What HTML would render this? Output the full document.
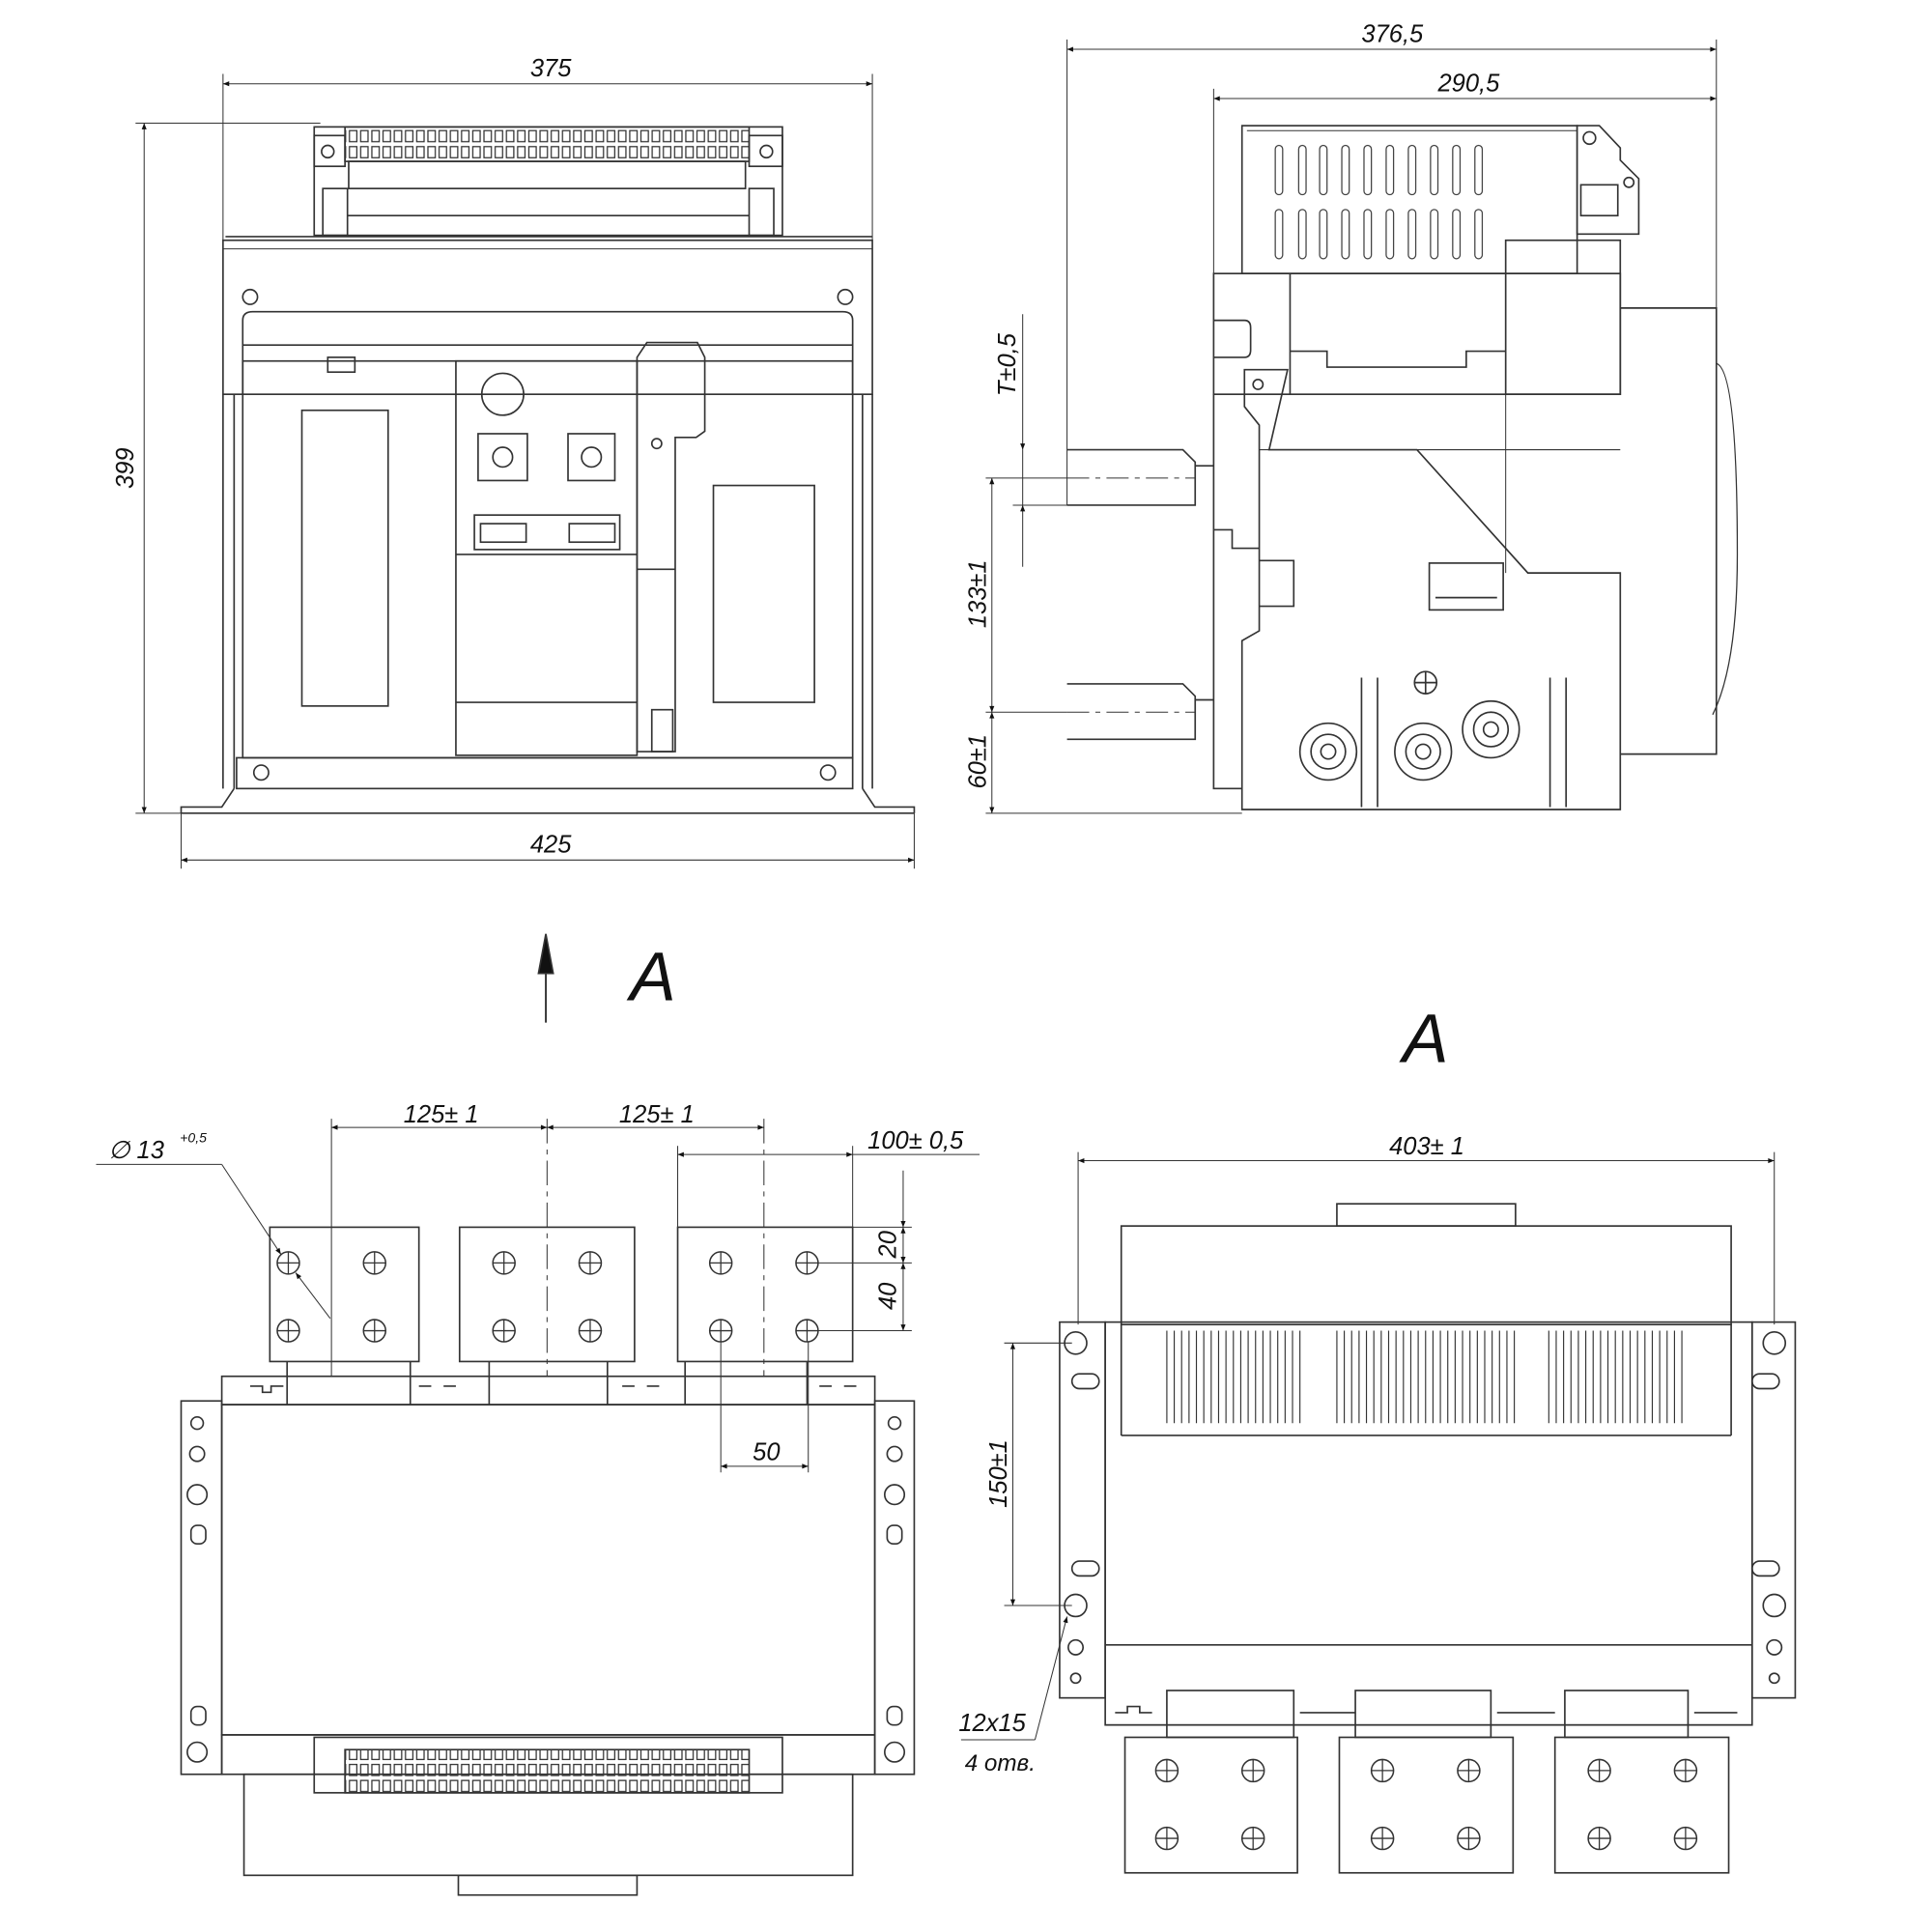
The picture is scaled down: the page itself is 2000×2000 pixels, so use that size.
<!DOCTYPE html>
<html><head><meta charset="utf-8"><style>
html,body{margin:0;padding:0;background:#fff;}
svg{display:block}
text{font-family:"Liberation Sans",sans-serif;font-style:italic;fill:#111}
</style></head><body>
<svg width="2000" height="2000" viewBox="0 0 1568 1568" xmlns="http://www.w3.org/2000/svg">
<defs>
<marker id="a" viewBox="0 0 10 10" refX="10" refY="5" markerWidth="12" markerHeight="5" orient="auto-start-reverse" markerUnits="userSpaceOnUse"><path d="M0,1 L10,5 L0,9z" fill="#111"/></marker>
<g id="hole"><circle r="9" fill="#fff" stroke="#333" stroke-width="1.2"/><path d="M-9,0H9M0,-9V9" stroke="#333" stroke-width="1"/></g>
<g id="slot"><rect x="-3" y="0" width="6" height="40" rx="3" fill="none" stroke="#444" stroke-width="1"/></g>
<pattern id="term" width="9.1" height="13" patternUnits="userSpaceOnUse"><rect x="1.5" y="2" width="6" height="9" fill="#fff" stroke="#333" stroke-width="1"/></pattern>
</defs>
<g fill="none" stroke="#333" stroke-width="1.3">

<!-- ============ TOP LEFT FRONT VIEW ============ -->
<line x1="181" y1="60" x2="181" y2="195" stroke-width="0.8"/>
<line x1="708" y1="60" x2="708" y2="195" stroke-width="0.8"/>
<line x1="181" y1="68" x2="708" y2="68" stroke-width="0.8" marker-start="url(#a)" marker-end="url(#a)"/>
<line x1="110" y1="100" x2="260" y2="100" stroke-width="0.8"/>
<line x1="110" y1="660" x2="150" y2="660" stroke-width="0.8"/>
<line x1="117" y1="100" x2="117" y2="660" stroke-width="0.8" marker-start="url(#a)" marker-end="url(#a)"/>
<line x1="147" y1="660" x2="147" y2="705" stroke-width="0.8"/>
<line x1="742" y1="660" x2="742" y2="705" stroke-width="0.8"/>
<line x1="147" y1="698" x2="742" y2="698" stroke-width="0.8" marker-start="url(#a)" marker-end="url(#a)"/>

<rect x="255" y="103" width="380" height="88"/>
<rect x="280" y="103" width="328" height="28" fill="url(#term)"/>
<rect x="255" y="110" width="25" height="25"/><rect x="608" y="110" width="27" height="25"/>
<circle cx="266" cy="123" r="5"/><circle cx="622" cy="123" r="5"/>
<rect x="283" y="131" width="322" height="22"/>
<rect x="262" y="153" width="20" height="38"/><rect x="608" y="153" width="20" height="38"/>
<line x1="282" y1="175" x2="608" y2="175"/>
<line x1="183" y1="192" x2="708" y2="192"/>
<rect x="181" y="195" width="527" height="125"/>
<line x1="181" y1="202" x2="708" y2="202" stroke-width="0.8"/>
<circle cx="203" cy="241" r="6"/><circle cx="686" cy="241" r="6"/>
<path d="M197,320 V260 Q197,253 205,253 H684 Q692,253 692,260 V320"/>
<line x1="197" y1="280" x2="692" y2="280"/>
<rect x="197" y="293" width="495" height="322"/>
<rect x="266" y="290" width="22" height="12"/>
<rect x="245" y="333" width="70" height="240"/>
<rect x="370" y="293" width="147" height="320"/>
<circle cx="408" cy="320" r="17"/>
<rect x="388" y="352" width="40" height="38"/><circle cx="408" cy="371" r="8"/>
<rect x="461" y="352" width="38" height="38"/><circle cx="480" cy="371" r="8"/>
<rect x="385" y="418" width="118" height="28"/><rect x="390" y="425" width="37" height="15"/><rect x="462" y="425" width="37" height="15"/>
<line x1="370" y1="450" x2="517" y2="450"/>
<line x1="370" y1="570" x2="517" y2="570"/>
<path d="M517,290 L525,278 H566 L572,290 V350 L565,355 H548 V610 H517 Z"/>
<rect x="529" y="576" width="17" height="34"/><circle cx="533" cy="360" r="4"/>
<line x1="517" y1="462" x2="548" y2="462"/>
<rect x="579" y="394" width="82" height="176"/>
<rect x="192" y="615" width="500" height="25"/>
<circle cx="212" cy="627" r="6"/><circle cx="672" cy="627" r="6"/>
<path d="M147,660 V655 H180 L190,640 M742,660 V655 H710 L700,640"/>
<path d="M147,660 H742"/>
<path d="M181,320 V640 M708,320 V640 M190,320 V640 M700,320 V640"/>

<!-- ============ TOP RIGHT SIDE VIEW ============ -->
<line x1="866" y1="32" x2="866" y2="410" stroke-width="0.8"/>
<line x1="1393" y1="32" x2="1393" y2="250" stroke-width="0.8"/>
<line x1="866" y1="40" x2="1393" y2="40" stroke-width="0.8" marker-start="url(#a)" marker-end="url(#a)"/>
<line x1="985" y1="72" x2="985" y2="222" stroke-width="0.8"/>
<line x1="985" y1="80" x2="1393" y2="80" stroke-width="0.8" marker-start="url(#a)" marker-end="url(#a)"/>
<rect x="1008" y="102" width="272" height="120"/>
<line x1="1012" y1="106" x2="1280" y2="106" stroke-width="0.8"/>
<g>
<use href="#slot" x="1038" y="118"/><use href="#slot" x="1057" y="118"/><use href="#slot" x="1074" y="118"/><use href="#slot" x="1092" y="118"/><use href="#slot" x="1110" y="118"/><use href="#slot" x="1128" y="118"/><use href="#slot" x="1146" y="118"/><use href="#slot" x="1164" y="118"/><use href="#slot" x="1182" y="118"/><use href="#slot" x="1200" y="118"/>
<use href="#slot" x="1038" y="170"/><use href="#slot" x="1057" y="170"/><use href="#slot" x="1074" y="170"/><use href="#slot" x="1092" y="170"/><use href="#slot" x="1110" y="170"/><use href="#slot" x="1128" y="170"/><use href="#slot" x="1146" y="170"/><use href="#slot" x="1164" y="170"/><use href="#slot" x="1182" y="170"/><use href="#slot" x="1200" y="170"/>
</g>
<path d="M1280,102 H1298 L1315,120 V130 L1330,145 V190 H1280 Z"/>
<rect x="1283" y="150" width="30" height="25"/><circle cx="1290" cy="112" r="5"/><circle cx="1322" cy="148" r="4"/>
<rect x="985" y="222" width="330" height="98"/>
<line x1="1047" y1="222" x2="1047" y2="320"/>
<path d="M1047,285 H1077 V298 H1190 V285 H1222"/>
<rect x="1222" y="195" width="93" height="125"/>
<path d="M985,260 H1010 Q1015,260 1015,266 V284 Q1015,290 1010,290 H985"/>
<path d="M1315,250 H1393 V612 H1315"/>
<path d="M1393,295 Q1410,300 1410,450 Q1410,540 1390,580" stroke-width="1"/>
<path d="M985,320 V640 H1008 V657 H1315 V465 H1240 L1150,365 L1030,365 L1045,300 H1010 V330 L1022,345 V512 L1008,520 V640"/>
<circle cx="1021" cy="312" r="4"/>
<line x1="1022" y1="365" x2="1315" y2="365" stroke-width="0.8"/>
<path d="M1222,320 V465" stroke-width="0.8"/>
<path d="M985,430 H1000 V445 H1022"/>
<path d="M1022,455 H1050 V492 H1022"/>
<rect x="1160" y="457" width="60" height="38"/><line x1="1165" y1="485" x2="1215" y2="485"/>
<line x1="1105" y1="550" x2="1105" y2="655"/><line x1="1118" y1="550" x2="1118" y2="655"/>
<line x1="1258" y1="550" x2="1258" y2="655"/><line x1="1271" y1="550" x2="1271" y2="655"/>
<circle cx="1078" cy="610" r="23"/><circle cx="1078" cy="610" r="14"/><circle cx="1078" cy="610" r="6"/>
<circle cx="1155" cy="610" r="23"/><circle cx="1155" cy="610" r="14"/><circle cx="1155" cy="610" r="6"/>
<circle cx="1210" cy="592" r="23"/><circle cx="1210" cy="592" r="14"/><circle cx="1210" cy="592" r="6"/>
<circle cx="1157" cy="554" r="9"/><path d="M1148,554H1166M1157,545V563"/>
<path d="M866,365 H960 L970,375 V410 H866 M970,378 H985"/>
<path d="M866,555 H960 L970,565 V600 H866 M970,568 H985"/>
<line x1="866" y1="388" x2="970" y2="388" stroke-dasharray="18,5,4,5" stroke-width="0.8"/>
<line x1="866" y1="578" x2="970" y2="578" stroke-dasharray="18,5,4,5" stroke-width="0.8"/>
<line x1="800" y1="388" x2="866" y2="388" stroke-width="0.8"/>
<line x1="822" y1="410" x2="866" y2="410" stroke-width="0.8"/>
<line x1="800" y1="578" x2="866" y2="578" stroke-width="0.8"/>
<line x1="800" y1="660" x2="1008" y2="660" stroke-width="0.8"/>
<line x1="830" y1="255" x2="830" y2="365" stroke-width="0.8" marker-end="url(#a)"/>
<line x1="830" y1="410" x2="830" y2="460" stroke-width="0.8" marker-start="url(#a)"/>
<line x1="830" y1="365" x2="830" y2="410" stroke-width="0.8"/>
<line x1="805" y1="388" x2="805" y2="578" stroke-width="0.8" marker-start="url(#a)" marker-end="url(#a)"/>
<line x1="805" y1="578" x2="805" y2="660" stroke-width="0.8" marker-start="url(#a)" marker-end="url(#a)"/>

<!-- arrow A -->
<line x1="443" y1="760" x2="443" y2="830" stroke-width="1.5"/>
<path d="M437,790 L443,758 L449,790 Z" fill="#111"/>

<!-- ============ BOTTOM LEFT TOP VIEW ============ -->
<line x1="269" y1="908" x2="269" y2="1117" stroke-width="0.8"/>
<line x1="444" y1="908" x2="444" y2="1117" stroke-width="0.8" stroke-dasharray="20,5,4,5"/>
<line x1="620" y1="908" x2="620" y2="1117" stroke-width="0.8" stroke-dasharray="20,5,4,5"/>
<line x1="269" y1="915" x2="444" y2="915" stroke-width="0.8" marker-start="url(#a)" marker-end="url(#a)"/>
<line x1="444" y1="915" x2="620" y2="915" stroke-width="0.8" marker-start="url(#a)" marker-end="url(#a)"/>
<line x1="550" y1="930" x2="550" y2="996" stroke-width="0.8"/>
<line x1="692" y1="930" x2="692" y2="996" stroke-width="0.8"/>
<line x1="550" y1="937" x2="692" y2="937" stroke-width="0.8" marker-start="url(#a)" marker-end="url(#a)"/>
<line x1="692" y1="937" x2="795" y2="937" stroke-width="0.8"/>
<line x1="78" y1="945" x2="180" y2="945" stroke-width="0.8"/>
<line x1="180" y1="945" x2="228" y2="1018" stroke-width="0.8" marker-end="url(#a)"/>
<line x1="268" y1="1070" x2="240" y2="1033" stroke-width="0.8" marker-end="url(#a)"/>
<line x1="692" y1="996" x2="740" y2="996" stroke-width="0.8"/>
<line x1="660" y1="1025" x2="740" y2="1025" stroke-width="0.8"/>
<line x1="660" y1="1080" x2="740" y2="1080" stroke-width="0.8"/>
<line x1="733" y1="950" x2="733" y2="996" stroke-width="0.8" marker-end="url(#a)"/>
<line x1="733" y1="996" x2="733" y2="1025" stroke-width="0.8" marker-start="url(#a)" marker-end="url(#a)"/>
<line x1="733" y1="1025" x2="733" y2="1080" stroke-width="0.8" marker-start="url(#a)" marker-end="url(#a)"/>
<line x1="585" y1="1080" x2="585" y2="1195" stroke-width="0.8"/>
<line x1="656" y1="1080" x2="656" y2="1195" stroke-width="0.8"/>
<line x1="585" y1="1190" x2="656" y2="1190" stroke-width="0.8" marker-start="url(#a)" marker-end="url(#a)"/>

<rect x="219" y="996" width="121" height="109"/>
<rect x="373" y="996" width="142" height="109"/>
<rect x="550" y="996" width="142" height="109"/>
<use href="#hole" x="234" y="1025"/><use href="#hole" x="304" y="1025"/><use href="#hole" x="234" y="1080"/><use href="#hole" x="304" y="1080"/>
<use href="#hole" x="409" y="1025"/><use href="#hole" x="479" y="1025"/><use href="#hole" x="409" y="1080"/><use href="#hole" x="479" y="1080"/>
<use href="#hole" x="585" y="1025"/><use href="#hole" x="655" y="1025"/><use href="#hole" x="585" y="1080"/><use href="#hole" x="655" y="1080"/>
<rect x="180" y="1117" width="530" height="23"/>
<path d="M233,1105 V1140 M333,1105 V1140 M397,1105 V1140 M493,1105 V1140 M556,1105 V1140 M655,1105 V1140"/>
<path d="M203,1125 H213 V1130 H220 V1125 H230 M340,1125 H350 M360,1125 H370 M505,1125 H515 M525,1125 H535 M665,1125 H675 M685,1125 H695"/>
<rect x="180" y="1140" width="530" height="268"/>
<rect x="147" y="1137" width="33" height="303"/>
<rect x="710" y="1137" width="32" height="303"/>
<circle cx="160" cy="1155" r="5"/><circle cx="160" cy="1180" r="6"/><circle cx="160" cy="1213" r="8"/><circle cx="160" cy="1422" r="8"/>
<rect x="155" y="1238" width="12" height="15" rx="5"/><rect x="155" y="1385" width="12" height="15" rx="5"/>
<circle cx="726" cy="1155" r="5"/><circle cx="726" cy="1180" r="6"/><circle cx="726" cy="1213" r="8"/><circle cx="726" cy="1422" r="8"/>
<rect x="720" y="1238" width="12" height="15" rx="5"/><rect x="720" y="1385" width="12" height="15" rx="5"/>
<rect x="180" y="1408" width="530" height="32"/>
<rect x="255" y="1410" width="380" height="45"/>
<rect x="280" y="1420" width="328" height="35" fill="url(#term)"/>
<rect x="198" y="1440" width="494" height="82"/>
<rect x="372" y="1522" width="145" height="16"/>

<!-- ============ BOTTOM RIGHT VIEW A ============ -->
<line x1="875" y1="935" x2="875" y2="1075" stroke-width="0.8"/>
<line x1="1440" y1="935" x2="1440" y2="1075" stroke-width="0.8"/>
<line x1="875" y1="942" x2="1440" y2="942" stroke-width="0.8" marker-start="url(#a)" marker-end="url(#a)"/>
<line x1="815" y1="1090" x2="870" y2="1090" stroke-width="0.8"/>
<line x1="815" y1="1303" x2="870" y2="1303" stroke-width="0.8"/>
<line x1="822" y1="1090" x2="822" y2="1303" stroke-width="0.8" marker-start="url(#a)" marker-end="url(#a)"/>
<line x1="780" y1="1412" x2="840" y2="1412" stroke-width="0.8"/>
<line x1="840" y1="1412" x2="866" y2="1312" stroke-width="0.8" marker-end="url(#a)"/>
<rect x="1085" y="977" width="145" height="18"/>
<rect x="910" y="995" width="495" height="80"/>
<rect x="897" y="1073" width="525" height="327"/>
<line x1="910" y1="1165" x2="1405" y2="1165"/>
<line x1="910" y1="1075" x2="910" y2="1165"/><line x1="1405" y1="1075" x2="1405" y2="1165"/>
<line x1="897" y1="1335" x2="1422" y2="1335"/>
<path d="M947,1080 V1155 M953,1080 V1155 M959,1080 V1155 M965,1080 V1155 M971,1080 V1155 M977,1080 V1155 M983,1080 V1155 M989,1080 V1155 M995,1080 V1155 M1001,1080 V1155 M1007,1080 V1155 M1013,1080 V1155 M1019,1080 V1155 M1025,1080 V1155 M1031,1080 V1155 M1037,1080 V1155 M1043,1080 V1155 M1049,1080 V1155 M1055,1080 V1155" stroke-width="0.9"/>
<path d="M1085,1080 V1155 M1091,1080 V1155 M1097,1080 V1155 M1103,1080 V1155 M1109,1080 V1155 M1115,1080 V1155 M1121,1080 V1155 M1127,1080 V1155 M1133,1080 V1155 M1139,1080 V1155 M1145,1080 V1155 M1151,1080 V1155 M1157,1080 V1155 M1163,1080 V1155 M1169,1080 V1155 M1175,1080 V1155 M1181,1080 V1155 M1187,1080 V1155 M1193,1080 V1155 M1199,1080 V1155 M1205,1080 V1155 M1211,1080 V1155 M1217,1080 V1155 M1223,1080 V1155 M1229,1080 V1155" stroke-width="0.9"/>
<path d="M1257,1080 V1155 M1263,1080 V1155 M1269,1080 V1155 M1275,1080 V1155 M1281,1080 V1155 M1287,1080 V1155 M1293,1080 V1155 M1299,1080 V1155 M1305,1080 V1155 M1311,1080 V1155 M1317,1080 V1155 M1323,1080 V1155 M1329,1080 V1155 M1335,1080 V1155 M1341,1080 V1155 M1347,1080 V1155 M1353,1080 V1155 M1359,1080 V1155 M1365,1080 V1155" stroke-width="0.9"/>
<rect x="860" y="1073" width="37" height="305"/>
<rect x="1422" y="1073" width="35" height="305"/>
<circle cx="873" cy="1090" r="9"/><circle cx="873" cy="1303" r="9"/><circle cx="873" cy="1337" r="6"/><circle cx="873" cy="1362" r="4"/>
<circle cx="1440" cy="1090" r="9"/><circle cx="1440" cy="1303" r="9"/><circle cx="1440" cy="1337" r="6"/><circle cx="1440" cy="1362" r="4"/>
<rect x="870" y="1115" width="22" height="12" rx="6"/><rect x="870" y="1267" width="22" height="12" rx="6"/>
<rect x="1422" y="1115" width="22" height="12" rx="6"/><rect x="1422" y="1267" width="22" height="12" rx="6"/>
<path d="M897,1400 H1422 M905,1390 H915 V1385 H925 V1390 H935 M1055,1390 H1100 M1215,1390 H1262 M1375,1390 H1410"/>
<rect x="947" y="1372" width="103" height="38"/><rect x="1100" y="1372" width="110" height="38"/><rect x="1270" y="1372" width="100" height="38"/>
<rect x="913" y="1410" width="140" height="110"/>
<rect x="1087" y="1410" width="141" height="110"/>
<rect x="1262" y="1410" width="141" height="110"/>
<use href="#hole" x="947" y="1437"/><use href="#hole" x="1017" y="1437"/><use href="#hole" x="947" y="1492"/><use href="#hole" x="1017" y="1492"/>
<use href="#hole" x="1122" y="1437"/><use href="#hole" x="1192" y="1437"/><use href="#hole" x="1122" y="1492"/><use href="#hole" x="1192" y="1492"/>
<use href="#hole" x="1298" y="1437"/><use href="#hole" x="1368" y="1437"/><use href="#hole" x="1298" y="1492"/><use href="#hole" x="1368" y="1492"/>
</g>

<!-- TEXT -->
<text x="447" y="62" font-size="20" text-anchor="middle">375</text>
<text x="447" y="692" font-size="20" text-anchor="middle">425</text>
<text transform="translate(108,380) rotate(-90)" font-size="20" text-anchor="middle">399</text>
<text x="1130" y="34" font-size="20" text-anchor="middle">376,5</text>
<text x="1192" y="74" font-size="20" text-anchor="middle">290,5</text>
<text transform="translate(824,296) rotate(-90)" font-size="20" text-anchor="middle">T±0,5</text>
<text transform="translate(800,482) rotate(-90)" font-size="20" text-anchor="middle">133±1</text>
<text transform="translate(800,618) rotate(-90)" font-size="20" text-anchor="middle">60±1</text>
<text x="530" y="812" font-size="56" text-anchor="middle">A</text>
<text x="1157" y="862" font-size="56" text-anchor="middle">A</text>
<text x="358" y="911" font-size="20" text-anchor="middle">125± 1</text>
<text x="533" y="911" font-size="20" text-anchor="middle">125± 1</text>
<text x="743" y="932" font-size="20" text-anchor="middle">100± 0,5</text>
<text x="88" y="940" font-size="20">∅ 13</text>
<text x="146" y="927" font-size="11">+0,5</text>
<text transform="translate(727,1010) rotate(-90)" font-size="20" text-anchor="middle">20</text>
<text transform="translate(727,1052) rotate(-90)" font-size="20" text-anchor="middle">40</text>
<text x="622" y="1185" font-size="20" text-anchor="middle">50</text>
<text x="1158" y="937" font-size="20" text-anchor="middle">403± 1</text>
<text transform="translate(817,1196) rotate(-90)" font-size="20" text-anchor="middle">150±1</text>
<text x="778" y="1405" font-size="20">12x15</text>
<text x="783" y="1437" font-size="19">4 отв.</text>
</svg>
</body></html>
